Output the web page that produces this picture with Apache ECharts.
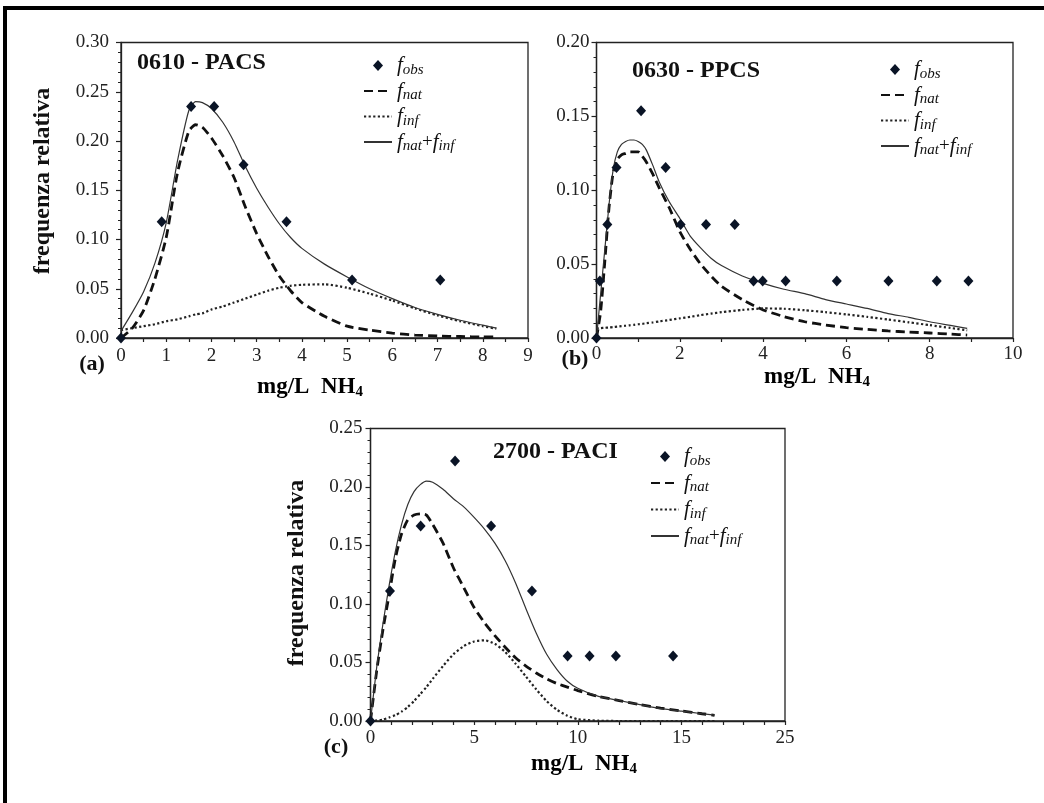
<!DOCTYPE html>
<html><head><meta charset="utf-8">
<script src="https://cdn.jsdelivr.net/npm/echarts@6/dist/echarts.min.js"></script>
<style>html,body{margin:0;padding:0;background:#fff}#c{width:1044px;height:803px}</style>
</head><body><div id="c"></div>
<script>
// ---------- Panel (a) 0610 - PACS ----------
const obsA_x = [0, 0.90, 1.55, 2.06, 2.71, 3.66, 5.11, 7.06];
const obsA_y = [0, 0.118, 0.235, 0.235, 0.176, 0.118, 0.059, 0.059];
const curveA_x = [0, 0.25, 0.5, 0.75, 1.0, 1.25, 1.5, 1.65, 1.8, 2.0, 2.25, 2.5, 2.75, 3.0, 3.25, 3.5, 3.75, 4.0, 4.5, 5.0, 5.5, 6.0, 6.5, 7.0, 7.5, 8.0, 8.3];
const natA = [0.000, 0.010, 0.028, 0.060, 0.102, 0.168, 0.210, 0.2165, 0.214, 0.203, 0.185, 0.163, 0.133, 0.106, 0.083, 0.063, 0.048, 0.036, 0.022, 0.012, 0.008, 0.005, 0.003, 0.002, 0.0015, 0.001, 0.001];
const infA = [0.008, 0.010, 0.012, 0.014, 0.017, 0.019, 0.022, 0.024, 0.025, 0.029, 0.032, 0.036, 0.040, 0.044, 0.048, 0.051, 0.053, 0.054, 0.0545, 0.051, 0.045, 0.038, 0.030, 0.023, 0.017, 0.012, 0.0095];
const sumA = [0.007, 0.026, 0.047, 0.076, 0.117, 0.180, 0.231, 0.240, 0.239, 0.233, 0.219, 0.199, 0.174, 0.152, 0.133, 0.116, 0.102, 0.091, 0.075, 0.062, 0.050, 0.040, 0.031, 0.024, 0.018, 0.013, 0.010];
const xTickLabelsA = ['0','1','2','3','4','5','6','7','8','9'];
const yTickLabelsA = ['0.00','0.05','0.10','0.15','0.20','0.25','0.30'];

// ---------- Panel (b) 0630 - PPCS ----------
const obsB_x = [0, 0.08, 0.26, 0.48, 1.07, 1.66, 2.02, 2.63, 3.32, 3.77, 3.99, 4.54, 5.77, 7.01, 8.17, 8.93];
const obsB_y = [0, 0.0385, 0.0769, 0.1154, 0.1538, 0.1154, 0.0769, 0.0769, 0.0769, 0.0385, 0.0385, 0.0385, 0.0385, 0.0385, 0.0385, 0.0385];
const curveB_x = [0, 0.1, 0.2, 0.3, 0.4, 0.5, 0.6, 0.7, 0.8, 0.9, 1.0, 1.1, 1.2, 1.35, 1.5, 1.75, 2.0, 2.25, 2.5, 2.75, 3.0, 3.5, 4.0, 4.5, 5.0, 5.5, 6.0, 6.5, 7.0, 7.5, 8.0, 8.5, 8.9];
const natB = [0, 0.018, 0.052, 0.088, 0.112, 0.121, 0.124, 0.125, 0.126, 0.126, 0.126, 0.123, 0.119, 0.111, 0.102, 0.088, 0.072, 0.060, 0.050, 0.042, 0.035, 0.026, 0.019, 0.0145, 0.011, 0.0088, 0.0070, 0.0058, 0.0048, 0.0040, 0.0034, 0.0026, 0.0020];
const infB = [0.0065, 0.0067, 0.0069, 0.0071, 0.0074, 0.0077, 0.0080, 0.0083, 0.0086, 0.0089, 0.0093, 0.0096, 0.0100, 0.0105, 0.0112, 0.0122, 0.0133, 0.0143, 0.0155, 0.0165, 0.0175, 0.0190, 0.0200, 0.0198, 0.0188, 0.0175, 0.0160, 0.0143, 0.0125, 0.0106, 0.0087, 0.0068, 0.0052];
const sumB = [0, 0.030, 0.060, 0.090, 0.114, 0.126, 0.131, 0.133, 0.134, 0.134, 0.133, 0.131, 0.127, 0.117, 0.106, 0.092, 0.081, 0.069, 0.061, 0.054, 0.049, 0.042, 0.037, 0.033, 0.030, 0.026, 0.023, 0.020, 0.0165, 0.014, 0.011, 0.0085, 0.0065];
const xTickLabelsB = ['0','2','4','6','8','10'];
const yTickLabelsB = ['0.00','0.05','0.10','0.15','0.20'];

// ---------- Panel (c) 2700 - PACI ----------
const obsC_x = [0, 0.94, 2.42, 4.08, 5.82, 7.79, 9.51, 10.57, 11.84, 14.60];
const obsC_y = [0, 0.1111, 0.1667, 0.2222, 0.1667, 0.1111, 0.0556, 0.0556, 0.0556, 0.0556];
const curveC_x = [0, 0.3, 0.6, 0.9, 1.2, 1.5, 1.8, 2.1, 2.4, 2.7, 3.0, 3.5, 4.0, 4.5, 5.0, 5.5, 6.0, 6.5, 7.0, 7.5, 8.0, 8.5, 9.0, 9.5, 10.0, 11.0, 12.0, 13.0, 14.0, 15.0, 16.0, 16.6];
const natC = [0, 0.043, 0.078, 0.108, 0.139, 0.160, 0.172, 0.176, 0.177, 0.176, 0.168, 0.152, 0.131, 0.114, 0.097, 0.084, 0.073, 0.063, 0.054, 0.047, 0.041, 0.036, 0.032, 0.029, 0.026, 0.021, 0.0175, 0.014, 0.011, 0.0086, 0.0062, 0.0049];
const infC = [0, 0.0005, 0.0012, 0.003, 0.005, 0.008, 0.012, 0.017, 0.023, 0.029, 0.036, 0.047, 0.057, 0.064, 0.068, 0.069, 0.066, 0.059, 0.049, 0.038, 0.027, 0.017, 0.0095, 0.0045, 0.0015, 0.0003, 0, 0, 0, 0, 0, 0];
const sumC = [0, 0.046, 0.083, 0.116, 0.145, 0.168, 0.185, 0.196, 0.202, 0.205, 0.204, 0.198, 0.190, 0.183, 0.174, 0.164, 0.152, 0.137, 0.118, 0.096, 0.075, 0.057, 0.044, 0.034, 0.028, 0.021, 0.0175, 0.014, 0.0105, 0.0085, 0.0062, 0.005];
const xTickLabelsC = ['0','5','10','15','25'];
const yTickLabelsC = ['0.00','0.05','0.10','0.15','0.20','0.25'];

const panelTitles = ['0610 - PACS', '0630 - PPCS', '2700 - PACI'];
const panelLetters = ['(a)', '(b)', '(c)'];
const yAxisTitle = 'frequenza relativa';

// ---------- styling ----------
const SERIF = '"Liberation Serif", "DejaVu Serif", serif';
const INK = '#111';
const pairs = (xs, ys) => xs.map((x, i) => [x, ys[i]]);

function xAxisCfg(gi, max, interval, minorSplit, labels, margin) {
  return {
    gridIndex: gi, type: 'value', min: 0, max: max, interval: interval,
    axisLine: { show: true, onZero: false, lineStyle: { color: '#222', width: 1.3 } },
    axisTick: { show: true, length: 4, lineStyle: { color: '#222', width: 1.2 } },
    minorTick: { show: true, splitNumber: minorSplit, length: 4, lineStyle: { color: '#222', width: 1.2 } },
    splitLine: { show: false }, minorSplitLine: { show: false },
    axisLabel: { fontFamily: SERIF, fontSize: 19, color: '#222', margin: margin,
      formatter: v => labels[Math.round(v / interval)] }
  };
}
function yAxisCfg(gi, max, labels, margin) {
  return {
    gridIndex: gi, type: 'value', min: 0, max: max, interval: 0.05,
    axisLine: { show: true, onZero: false, lineStyle: { color: '#222', width: 1.3 } },
    axisTick: { show: true, length: 5, lineStyle: { color: '#222', width: 1.2 } },
    minorTick: { show: true, splitNumber: 5, length: 3, lineStyle: { color: '#222', width: 1 } },
    splitLine: { show: false }, minorSplitLine: { show: false },
    axisLabel: { fontFamily: SERIF, fontSize: 19, color: '#222', margin: margin,
      formatter: v => labels[Math.round(v / 0.05)] }
  };
}
function panelSeries(k, idx, ox, oy, cx, nat, inf, sum) {
  return [
    { name: 'obs_' + k, type: 'scatter', xAxisIndex: idx, yAxisIndex: idx, data: pairs(ox, oy),
      symbol: 'diamond', symbolSize: [10, 11], itemStyle: { color: '#0a1426', opacity: 1 }, z: 5 },
    { name: 'nat_' + k, type: 'line', xAxisIndex: idx, yAxisIndex: idx, data: pairs(cx, nat),
      symbol: 'none', smooth: 0.2, itemStyle: { color: '#111' },
      lineStyle: { color: '#111', width: 2.8, type: [9, 5] } },
    { name: 'inf_' + k, type: 'line', xAxisIndex: idx, yAxisIndex: idx, data: pairs(cx, inf),
      symbol: 'none', smooth: 0.2, itemStyle: { color: '#222' },
      lineStyle: { color: '#222', width: 2.2, type: [2.2, 2.4] } },
    { name: 'sum_' + k, type: 'line', xAxisIndex: idx, yAxisIndex: idx, data: pairs(cx, sum),
      symbol: 'none', smooth: 0.2, itemStyle: { color: '#333' },
      lineStyle: { color: '#333', width: 1.2 } }
  ];
}
const legendText = {
  obs: '{f|f}{s|obs}',
  nat: '{f|f}{s|nat}',
  inf: '{f|f}{s|inf}',
  sum: '{f|f}{s|nat}{p|+}{f|f}{s|inf}'
};
const legendRich = {
  f: { fontFamily: SERIF, fontStyle: 'italic', fontSize: 21, lineHeight: 24, color: INK },
  s: { fontFamily: SERIF, fontStyle: 'italic', fontSize: 15, lineHeight: 14, verticalAlign: 'bottom', color: INK },
  p: { fontFamily: SERIF, fontSize: 19, lineHeight: 24, color: INK }
};
// diamond icon kept small inside the 28x12 legend box (degenerate corner segments fix the box)
const DIAMOND_ICON = 'path://M0,0L0,0M28,12L28,12M14,0.5L19,6L14,11.5L9,6Z';
const hiddenSymbol = { opacity: 0, borderWidth: 0 };
function legendCfg(k, left, top, gap) {
  return {
    orient: 'vertical', left: left, top: top, itemWidth: 28, itemHeight: 12, itemGap: gap,
    selectedMode: false, padding: 0,
    data: [
      { name: 'obs_' + k, icon: DIAMOND_ICON, itemStyle: { color: '#0a1426', opacity: 1 } },
      { name: 'nat_' + k, itemStyle: hiddenSymbol },
      { name: 'inf_' + k, itemStyle: hiddenSymbol },
      { name: 'sum_' + k, itemStyle: hiddenSymbol }
    ],
    formatter: n => legendText[n.split('_')[0]],
    textStyle: { rich: legendRich, color: INK }
  };
}
function txt(x, y, text, font, align, extra) {
  return Object.assign({ type: 'text', x: x, y: y, silent: true,
    style: { text: text, font: font, fill: INK, align: align || 'center', verticalAlign: 'middle',
      textAlign: align || 'center', textVerticalAlign: 'middle' } }, extra || {});
}
const unitRich = {
  a: { fontFamily: SERIF, fontWeight: 'bold', fontSize: 23, lineHeight: 26, color: INK },
  b: { fontFamily: SERIF, fontWeight: 'bold', fontSize: 15, lineHeight: 14, verticalAlign: 'bottom', color: INK }
};
function unitLabel(x, y) {
  return { type: 'text', x: x, y: y, silent: true,
    style: { text: '{a|mg/L  NH}{b|4}', rich: unitRich, align: 'center', verticalAlign: 'middle',
      textAlign: 'center', textVerticalAlign: 'middle' } };
}
const TF = 'bold 24px "Liberation Serif"';
const YF = 'bold 24px "Liberation Serif"';

const chart = echarts.init(document.getElementById('c'), null, { renderer: 'canvas' });
chart.setOption({
  animation: false,
  backgroundColor: '#ffffff',
  grid: [
    { left: 121, top: 42.5, width: 407, height: 295.5, show: true, borderColor: '#222', borderWidth: 1.3, containLabel: false },
    { left: 596.5, top: 42.5, width: 416.5, height: 295.5, show: true, borderColor: '#222', borderWidth: 1.3, containLabel: false },
    { left: 370.5, top: 428.5, width: 414.5, height: 292.5, show: true, borderColor: '#222', borderWidth: 1.3, containLabel: false }
  ],
  xAxis: [
    xAxisCfg(0, 9, 1, 2, xTickLabelsA, 9),
    xAxisCfg(1, 10, 2, 2, xTickLabelsB, 7),
    xAxisCfg(2, 20, 5, 5, xTickLabelsC, 8)
  ],
  yAxis: [
    yAxisCfg(0, 0.30, yTickLabelsA, 12),
    yAxisCfg(1, 0.20, yTickLabelsB, 7),
    yAxisCfg(2, 0.25, yTickLabelsC, 8)
  ],
  legend: [
    legendCfg('a', 363, 55, 3),
    legendCfg('b', 880, 59, 3),
    legendCfg('c', 650, 446, 4)
  ],
  series: [].concat(
    panelSeries('a', 0, obsA_x, obsA_y, curveA_x, natA, infA, sumA),
    panelSeries('b', 1, obsB_x, obsB_y, curveB_x, natB, infB, sumB),
    panelSeries('c', 2, obsC_x, obsC_y, curveC_x, natC, infC, sumC)
  ),
  graphic: [
    { type: 'rect', silent: true, shape: { x: 3, y: 6, width: 1041, height: 4 }, style: { fill: '#000' } },
    { type: 'rect', silent: true, shape: { x: 3, y: 6, width: 4, height: 797 }, style: { fill: '#000' } },
    txt(137, 63, panelTitles[0], TF, 'left'),
    txt(632, 71, panelTitles[1], TF, 'left'),
    txt(493, 452, panelTitles[2], TF, 'left'),
    txt(43, 181, yAxisTitle, YF, 'center', { rotation: Math.PI / 2 }),
    txt(297, 573, yAxisTitle, YF, 'center', { rotation: Math.PI / 2 }),
    txt(92, 364, panelLetters[0], 'bold 22px "Liberation Serif"'),
    txt(575, 359, panelLetters[1], 'bold 22px "Liberation Serif"'),
    txt(336, 747, panelLetters[2], 'bold 22px "Liberation Serif"'),
    unitLabel(310, 387),
    unitLabel(817, 377),
    unitLabel(584, 764)
  ]
});
</script></body></html>
